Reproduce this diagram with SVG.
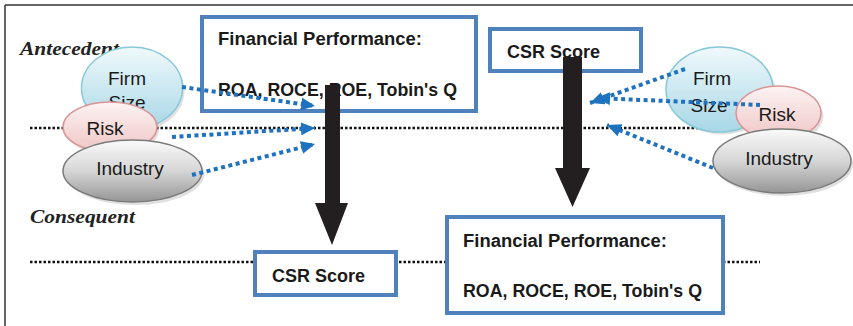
<svg xmlns="http://www.w3.org/2000/svg" width="853" height="326" viewBox="0 0 853 326">
<defs>
<linearGradient id="gBlue" x1="0" y1="0" x2="0" y2="1"><stop offset="0" stop-color="#f0f9fc"/><stop offset="1" stop-color="#a8d7e6"/></linearGradient>
<linearGradient id="gRed" x1="0" y1="0" x2="0" y2="1"><stop offset="0" stop-color="#fdf3f3"/><stop offset="1" stop-color="#efc5c5"/></linearGradient>
<linearGradient id="gGray" x1="0" y1="0" x2="0" y2="1"><stop offset="0" stop-color="#fafafa"/><stop offset="0.5" stop-color="#d6d6d6"/><stop offset="1" stop-color="#959595"/></linearGradient>
<marker id="ah" markerUnits="userSpaceOnUse" markerWidth="15" markerHeight="13" refX="14" refY="6.5" orient="auto"><path d="M0,0 L14,6.5 L0,13 Z" fill="#1f72bf"/></marker>
</defs>
<style>
.frame{stroke:#333;stroke-width:1.5;fill:none}
.dot{stroke:#111;stroke-width:2.5;stroke-dasharray:2.5 2;fill:none}
.box{fill:#fff;stroke:#4f81bd;stroke-width:4}
.bt{font-family:"Liberation Sans",Arial,sans-serif;font-weight:bold;font-size:18px;fill:#1a1a1a}
.et{font-family:"Liberation Sans",Arial,sans-serif;font-size:19px;fill:#1a1a1a;text-anchor:middle}
.lab{font-family:"Liberation Serif","Times New Roman",serif;font-weight:bold;font-style:italic;font-size:19px;fill:#222}
.blue{fill:url(#gBlue);stroke:#86c9d9;stroke-width:1.5}
.red{fill:url(#gRed);stroke:#d99494;stroke-width:1.5}
.gray{fill:url(#gGray);stroke:#7a7a7a;stroke-width:1.5}
.sh{fill:#000;opacity:0.12}
.bar{fill:#231f20}
.conn{stroke:#1f72bf;stroke-width:4;stroke-dasharray:4 3.5;fill:none;marker-end:url(#ah)}
</style>
<g id="frame">
<line class="frame" x1="5" y1="5" x2="853" y2="5"/>
<line class="frame" x1="5" y1="5" x2="5" y2="326"/>
</g>
<g id="levels">
<line class="dot" x1="30" y1="128" x2="720" y2="128"/>
<line class="dot" x1="30" y1="262" x2="760" y2="262"/>
<text class="lab" x="20" y="55" textLength="99" lengthAdjust="spacingAndGlyphs">Antecedent</text>
<text class="lab" x="30" y="223" textLength="105" lengthAdjust="spacingAndGlyphs">Consequent</text>
</g>
<g id="left-firm-size">
<ellipse class="sh" cx="134" cy="91" rx="50.5" ry="41"/>
<ellipse class="blue" cx="132" cy="88" rx="50.5" ry="41"/>
<text class="et" x="127" y="85">Firm</text>
<text class="et" x="127" y="109">Size</text>
</g>
<g id="left-risk">
<ellipse class="sh" cx="112" cy="130" rx="47" ry="25"/>
<ellipse class="red" cx="110" cy="127" rx="47" ry="25"/>
<text class="et" x="105" y="135">Risk</text>
</g>
<g id="left-industry">
<ellipse class="sh" cx="135" cy="174" rx="69.5" ry="31"/>
<ellipse class="gray" cx="132.5" cy="171" rx="69.5" ry="31"/>
<text class="et" x="130" y="175">Industry</text>
</g>
<g id="right-firm-size">
<ellipse class="sh" cx="722" cy="92" rx="53.5" ry="42.5"/>
<ellipse class="blue" cx="719.5" cy="89.5" rx="53.5" ry="42.5"/>
<text class="et" x="712" y="85">Firm</text>
<text class="et" x="709" y="112">Size</text>
</g>
<g id="right-risk">
<ellipse class="sh" cx="781" cy="116" rx="42.5" ry="27"/>
<ellipse class="red" cx="778.5" cy="113" rx="42.5" ry="27"/>
<text class="et" x="777" y="121">Risk</text>
</g>
<g id="right-industry">
<ellipse class="sh" cx="784" cy="164" rx="69" ry="32"/>
<ellipse class="gray" cx="782" cy="161" rx="69" ry="32"/>
<text class="et" x="779" y="165">Industry</text>
</g>
<g id="fp-top">
<rect class="box" x="202" y="17" width="274" height="94"/>
<text class="bt" x="218" y="45" textLength="204" lengthAdjust="spacingAndGlyphs">Financial Performance:</text>
<text class="bt" x="218" y="96" textLength="239" lengthAdjust="spacingAndGlyphs">ROA, ROCE, ROE, Tobin's Q</text>
</g>
<g id="csr-top">
<rect class="box" x="490" y="29" width="151" height="42"/>
<text class="bt" x="507" y="58">CSR Score</text>
</g>
<g id="csr-bottom">
<rect class="box" x="255" y="252" width="141" height="43"/>
<text class="bt" x="272" y="282">CSR Score</text>
</g>
<g id="fp-bottom">
<rect class="box" x="447" y="217" width="276" height="96"/>
<text class="bt" x="463" y="247" textLength="204" lengthAdjust="spacingAndGlyphs">Financial Performance:</text>
<text class="bt" x="463" y="297" textLength="239" lengthAdjust="spacingAndGlyphs">ROA, ROCE, ROE, Tobin's Q</text>
</g>
<g id="connectors">
<path class="bar" d="M325,85 H340 V203 H348 L332,245 L315,203 H325 Z"/>
<path class="bar" d="M563,57 H582 V168 H590 L572.5,207 L555,168 H563 Z"/>
<line class="conn" x1="182" y1="87" x2="315" y2="106"/>
<line class="conn" x1="172" y1="137" x2="315" y2="128"/>
<line class="conn" x1="192" y1="175" x2="315" y2="144"/>
<line class="conn" x1="685" y1="69" x2="590" y2="103"/>
<line class="conn" x1="760" y1="105" x2="596" y2="98"/>
<line class="conn" x1="713" y1="168" x2="607" y2="125"/>
</g>
</svg>
